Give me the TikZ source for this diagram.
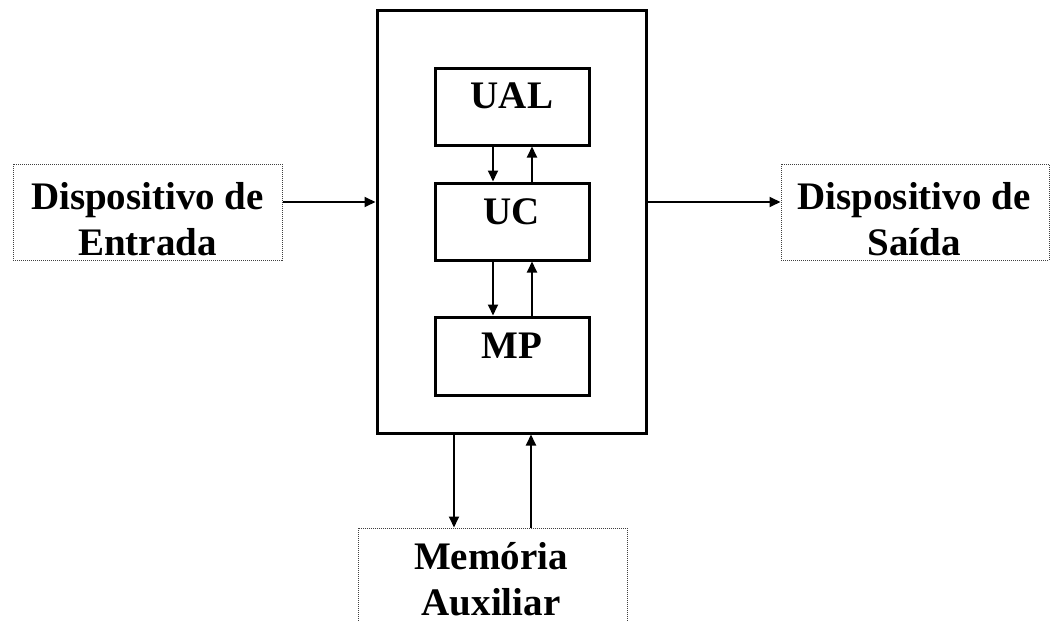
\documentclass[tikz,border=0pt]{standalone}
\usepackage{fontspec}
\setmainfont{Liberation Serif}
\usetikzlibrary{arrows.meta}
\begin{document}
\begin{tikzpicture}[x=1pt,y=-1pt,
  unitbox/.style={draw, line width=3pt, rectangle, inner sep=0pt},
  periph/.style={draw=black!75, line width=1pt, dash pattern=on 1pt off 1pt, rectangle, inner sep=0pt},
  lbl/.style={font=\fontsize{39}{46}\selectfont\bfseries, align=center, inner sep=0pt},
  arr/.style={line width=1.8pt, -{Triangle[length=11pt,width=10pt]}}]
  \useasboundingbox (0,0) rectangle (1053,621);
  \begin{scope}
  \clip (0,0) rectangle (1053,621);

  % central processing block
  \node[unitbox, minimum width=269pt, minimum height=423pt] (cpu) at (511.5,221.5) {};
  \node[unitbox, minimum width=154pt, minimum height=77pt] (ual) at (512,106.5) {};
  \node[unitbox, minimum width=154pt, minimum height=77pt] (uc)  at (512,221.5) {};
  \node[unitbox, minimum width=154pt, minimum height=78pt] (mp)  at (512,356) {};
  \node[lbl] (ualt) at (512,96) {UAL};
  \node[lbl] (uct)  at (512,212) {UC};
  \node[lbl] (mpt)  at (512,346) {MP};

  % peripheral devices
  \node[periph, minimum width=269pt, minimum height=96pt] (in)  at (147.5,212) {};
  \node[periph, minimum width=268pt, minimum height=96pt] (out) at (915,212) {};
  \node[periph, minimum width=269pt, minimum height=140pt] (mem) at (492.5,598) {};
  \node[lbl] (int)  at (147.5,219) {Dispositivo de\\Entrada};
  \node[lbl] (outt) at (914,219) {Dispositivo de\\Saída};
  \node[lbl, anchor=north] (memt) at (491,542) {Memória\\Auxiliar};

  % columns of the vertical connectors
  \coordinate (xd) at (493,0);
  \coordinate (xu) at (532,0);
  \coordinate (md) at (454,0);
  \coordinate (mu) at (531,0);
  \coordinate (hy) at (0,202);

  \draw[arr] (xd |- ual.south) -- (xd |- uc.north);
  \draw[arr] (xu |- uc.north) -- (xu |- ual.south);
  \draw[arr] (xd |- uc.south) -- (xd |- mp.north);
  \draw[arr] (xu |- mp.north) -- (xu |- uc.south);

  \draw[arr] (in.east |- hy) -- (cpu.west |- hy);
  \draw[arr] (cpu.east |- hy) -- (out.west |- hy);

  \draw[arr] (md |- cpu.south) -- (md |- mem.north);
  \draw[arr] (mu |- mem.north) -- (mu |- cpu.south);
  \end{scope}
\end{tikzpicture}
\end{document}
